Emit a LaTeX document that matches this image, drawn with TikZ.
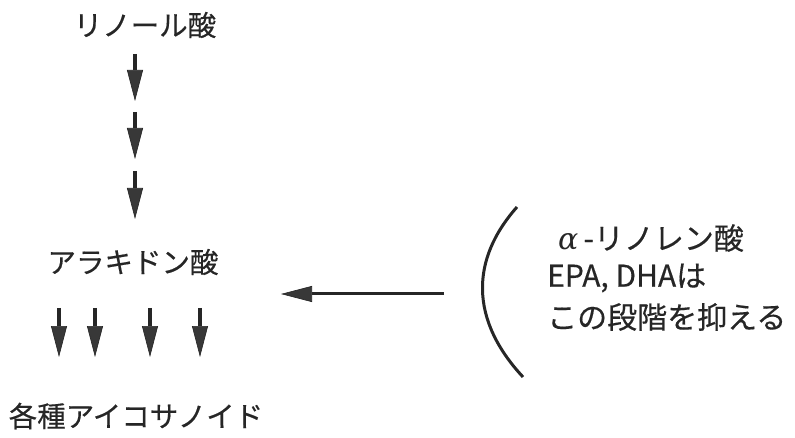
\documentclass[tikz,border=0pt]{standalone}
\usepackage{fontspec}
\setmainfont{Noto Sans CJK JP}[FakeBold=0.4]
\newfontfamily\greekfont{DejaVu Serif}
\usetikzlibrary{arrows.meta}
\definecolor{ink}{HTML}{262626}
\definecolor{headgray}{HTML}{383838}
\tikzset{
  x=1pt, y=-1pt,
  label text/.style={inner sep=0pt, text=ink, font=\fontsize{28.5}{34}\selectfont},
  side text/.style={inner sep=0pt, text=ink, anchor=west, font=\fontsize{30}{36}\selectfont},
  flow/.style={draw=ink, line width=3.5pt,
    -{Triangle[length=31pt, width=16pt, fill=headgray, line width=0.6pt]}},
}
\begin{document}
\begin{tikzpicture}
\useasboundingbox (0,0) rectangle (795,438);

% metabolic chain
\node[label text] (lin) at (145,25) {リノール酸};
\node[label text] (ara) at (133,262) {アラキドン酸};
\node[label text] (eic) at (136,416) {各種アイコサノイド};

% stepwise conversion of linoleic acid
\coordinate (s1a) at (135,54);  \coordinate (s1b) at (135,101);
\coordinate (s2a) at (135,112); \coordinate (s2b) at (135,159);
\coordinate (s3a) at (135,171); \coordinate (s3b) at (135,219);
\draw[flow] (s1a) -- (s1b);
\draw[flow] (s2a) -- (s2b);
\draw[flow] (s3a) -- (s3b);

% branching into the eicosanoids
\foreach \i/\xx in {1/59, 2/95, 3/150, 4/200}{
  \coordinate (e\i a) at (\xx,308);
  \coordinate (e\i b) at (\xx,357);
  \draw[flow] (e\i a) -- (e\i b);
}

% inhibiting omega-3 fatty acids
\node[side text] (t1) at (558,238) {{\greekfont\itshape α}\,-リノレン酸};
\node[side text] (t2) at (547,278) {EPA, DHAは};
\node[side text] (t3) at (547,317) {この段階を抑える};

\draw[ink, line width=3pt] (517,207) .. controls (470,260) and (470,320) .. (523,377);

\coordinate (inhA) at (444,294);
\coordinate (inhB) at (281,294);
\draw[flow, line width=3pt] (inhA) -- (inhB);
\end{tikzpicture}
\end{document}
